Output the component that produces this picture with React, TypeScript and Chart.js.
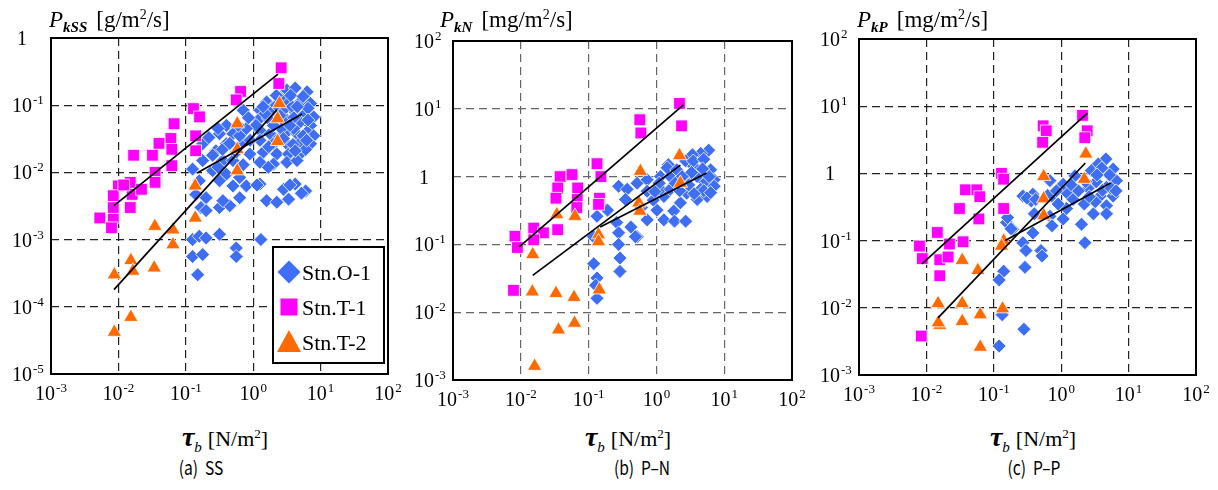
import React, { useEffect, useRef, useState } from 'react';
import { Chart, registerables } from 'chart.js';

Chart.register(...registerables);

type Pt = [number, number];

// ---------- tick labels (powers of ten) ----------
const X_TICK_EXP = [-3, -2, -1, 0, 1, 2];
const SS_Y_TICK_EXP = [-5, -4, -3, -2, -1, 0];
const NP_Y_TICK_EXP = [-3, -2, -1, 0, 1, 2];

const STATIONS = ['Stn.O-1', 'Stn.T-1', 'Stn.T-2'];

// ---------- (a) SS ----------
const SS_O1: Pt[] = [
  [3.16, 0.168], [4.2, 0.18], [6.3, 0.158], [1.58, 0.112], [3.16, 0.119], [5.0, 0.112], [7.1, 0.106],
  [1.26, 0.084], [1.88, 0.089], [2.8, 0.084], [4.2, 0.079], [5.96, 0.075], [7.9, 0.067], [1.19, 0.06],
  [1.68, 0.063], [3.16, 0.06], [5.0, 0.056], [7.1, 0.05], [1.26, 0.042], [1.78, 0.0376], [3.16, 0.04],
  [4.47, 0.0376], [6.3, 0.04], [7.9, 0.035], [1.26, 0.03], [2.0, 0.0266], [3.16, 0.0266], [5.0, 0.028],
  [7.1, 0.0266], [1.41, 0.02], [2.24, 0.0188], [3.35, 0.0188], [5.0, 0.0188], [1.26, 0.0141], [2.0, 0.0133],
  [3.16, 0.0141], [4.47, 0.015], [1.68, 0.0119], [2.5, 0.13], [2.2, 0.1], [3.8, 0.095], [2.5, 0.07],
  [4.0, 0.045], [2.5, 0.034], [6.0, 0.022], [2.6, 0.045], [4.0, 0.065], [2.0, 0.05],
  [1.1, 0.05], [1.5, 0.075], [2.2, 0.14], [3.6, 0.14], [5.5, 0.135], [6.5, 0.09], [4.5, 0.095], [3.5, 0.05],
  [5.5, 0.035], [6.5, 0.06], [1.4, 0.095], [2.8, 0.032], [3.9, 0.026], [1.7, 0.024], [4.2, 0.021], [6.2, 0.03],
  [0.71, 0.084], [0.4, 0.05], [0.316, 0.0376], [0.5, 0.0376], [0.79, 0.045], [0.178, 0.0266], [0.28, 0.021],
  [0.4, 0.0266], [0.71, 0.028], [0.89, 0.0188], [0.178, 0.015], [0.126, 0.0112], [0.355, 0.015], [0.5, 0.015],
  [0.71, 0.013], [0.25, 0.0106], [0.4, 0.0094], [0.63, 0.0084], [0.79, 0.0063], [0.5, 0.0063], [0.316, 0.0075],
  [0.158, 0.0075], [0.141, 0.0047], [0.2, 0.0042], [0.168, 0.003], [0.2, 0.0027], [0.316, 0.003], [0.45, 0.0032],
  [0.63, 0.0042], [0.355, 0.0038], [0.56, 0.02], [0.25, 0.018], [0.9, 0.03], [0.63, 0.035], [0.3, 0.012],
  [0.22, 0.033], [0.35, 0.022], [0.45, 0.027], [0.6, 0.05], [0.3, 0.045], [0.85, 0.065],
  [1.26, 0.0067], [1.58, 0.0038], [2.24, 0.0036], [2.82, 0.0056], [3.35, 0.004], [4.2, 0.0067], [6.0, 0.0053],
  [1.14, 0.0065], [3.5, 0.0065], [5.2, 0.0049],
  [0.126, 0.001], [0.158, 0.00112], [0.2, 0.00106], [0.316, 0.0012], [0.126, 0.00056], [0.178, 0.0006],
  [0.15, 0.0003], [0.56, 0.00075], [0.56, 0.00056], [1.3, 0.001],
];
const SS_T1: Pt[] = [
  [2.6, 0.36], [2.4, 0.21], [0.65, 0.16], [0.56, 0.12], [0.13, 0.089], [0.16, 0.067], [0.067, 0.053],
  [0.14, 0.035], [0.14, 0.021], [0.06, 0.032], [0.062, 0.022], [0.062, 0.0126], [0.04, 0.027], [0.032, 0.018],
  [0.035, 0.01], [0.035, 0.0071], [0.0168, 0.018], [0.015, 0.0071], [0.016, 0.0047], [0.015, 0.003],
  [0.022, 0.0056], [0.01, 0.0063], [0.0084, 0.0045], [0.0053, 0.0021], [0.0084, 0.0021], [0.0079, 0.0015],
  [0.0084, 0.003], [0.012, 0.0065],
];
const SS_T2: Pt[] = [
  [2.45, 0.106], [2.3, 0.063], [2.3, 0.029], [0.58, 0.053], [0.58, 0.022], [0.58, 0.0106], [0.138, 0.0063],
  [0.138, 0.0021], [0.0347, 0.00158], [0.0645, 0.0014], [0.0645, 0.00084], [0.0153, 0.00049], [0.0164, 0.00034],
  [0.034, 0.00038], [0.0087, 0.0003], [0.0153, 0.00007], [0.0087, 0.000042],
];
const SS_FIT_O1: Pt[] = [[0.147, 0.0098], [5.3, 0.074]];
const SS_FIT_T1: Pt[] = [[0.0086, 0.0032], [2.33, 0.29]];
const SS_FIT_T2: Pt[] = [[0.0086, 0.00018], [2.25, 0.085]];

// ---------- (b) P-N ----------
const N_O1: Pt[] = [
  [5.9, 2.45], [4.5, 2.2], [3.4, 2.1], [2.7, 1.7], [1.5, 1.5], [6.3, 1.26], [4.0, 1.0], [7.1, 0.9], [5.2, 0.81],
  [1.15, 1.0], [0.277, 0.72], [0.37, 0.65], [0.52, 0.8], [0.73, 0.9], [0.73, 0.61], [0.35, 0.46], [0.148, 0.39],
  [0.133, 0.26], [0.19, 0.32], [0.26, 0.21], [0.42, 0.18], [0.52, 0.13], [0.73, 0.23], [1.02, 0.32], [1.29, 0.23],
  [1.8, 0.31], [1.85, 0.22], [2.7, 0.22], [2.26, 0.41], [1.29, 0.51], [1.15, 0.65], [1.6, 0.65], [2.8, 0.57],
  [4.0, 0.46], [4.5, 0.65], [5.6, 0.51], [7.1, 0.72], [2.8, 0.9], [1.6, 1.0], [1.44, 1.35], [2.0, 1.26],
  [3.55, 1.42], [0.277, 0.148], [0.277, 0.1], [0.29, 0.063], [0.29, 0.04], [0.119, 0.052], [0.133, 0.032],
  [0.127, 0.025], [0.133, 0.016], [0.118, 0.13], [0.49, 0.13], [3.0, 0.75], [2.2, 0.62], [0.9, 0.45], [0.6, 0.35],
  [3.5, 1.7], [5.0, 1.8], [4.8, 1.3], [3.3, 1.15], [6.0, 1.0], [5.0, 0.62], [3.6, 0.56], [6.3, 0.58],
  [2.4, 1.0], [1.9, 0.8], [1.1, 0.8], [0.95, 0.6],
];
const N_T1: Pt[] = [
  [2.19, 12], [2.35, 5.6], [0.57, 6.9], [0.59, 4.4], [0.133, 1.55], [0.152, 1.0], [0.145, 0.48], [0.14, 0.39],
  [0.038, 1.0], [0.057, 1.07], [0.035, 0.68], [0.069, 0.68], [0.033, 0.48], [0.068, 0.46], [0.067, 0.35],
  [0.035, 0.165], [0.0155, 0.174], [0.0216, 0.148], [0.0155, 0.117], [0.0082, 0.132], [0.0089, 0.09], [0.0078, 0.021],
];
const N_T2: Pt[] = [
  [2.19, 2.04], [2.26, 0.8], [0.58, 1.2], [0.55, 0.41], [0.57, 0.31], [0.14, 0.139], [0.14, 0.11], [0.144, 0.0214],
  [0.034, 0.275], [0.063, 0.26], [0.015, 0.071], [0.0148, 0.02], [0.033, 0.019], [0.061, 0.0166], [0.036, 0.0055],
  [0.062, 0.0069], [0.016, 0.0016],
];
const N_FIT_O1: Pt[] = [[0.148, 0.18], [5.5, 1.13]];
const N_FIT_T1: Pt[] = [[0.0094, 0.091], [2.5, 11.4]];
const N_FIT_T2: Pt[] = [[0.015, 0.035], [2.26, 1.48]];

// ---------- (c) P-P ----------
const P_O1: Pt[] = [
  [4.6, 1.64], [5.9, 1.16], [3.55, 1.38], [2.8, 1.1], [1.6, 0.92], [6.6, 0.78], [4.7, 0.62], [3.8, 0.46],
  [5.9, 0.46], [4.7, 0.33], [4.7, 0.25], [3.0, 0.25], [2.0, 0.175], [2.25, 0.093], [1.2, 0.3], [1.07, 0.21],
  [1.2, 0.52], [1.5, 0.41], [1.07, 0.69], [0.72, 0.46], [0.68, 0.78], [0.38, 0.49], [0.27, 0.46], [0.36, 0.39],
  [0.4, 0.25], [0.68, 0.23], [0.73, 0.166], [0.38, 0.13], [0.27, 0.093], [0.155, 0.186], [0.19, 0.148], [0.3, 0.071],
  [0.5, 0.071], [0.52, 0.059], [0.29, 0.04], [0.14, 0.035], [0.12, 0.026], [0.28, 0.0048], [0.12, 0.0027],
  [0.133, 0.0079], [0.31, 0.43], [0.42, 0.41], [0.63, 0.47], [0.16, 0.22], [0.18, 0.15], [2.5, 0.6], [3.3, 0.75],
  [1.8, 0.55], [0.9, 0.35], [2.2, 0.35],
  [4.0, 1.2], [5.2, 0.95], [3.4, 0.95], [2.3, 0.75], [4.1, 0.56], [5.5, 0.6], [6.5, 0.55], [3.2, 0.38],
  [1.4, 0.68], [0.85, 0.55], [2.6, 0.45],
];
const P_T1: Pt[] = [
  [2.07, 7.3], [2.43, 4.3], [2.24, 3.4], [0.54, 5.1], [0.6, 4.3], [0.53, 2.9], [0.13, 1.0], [0.14, 0.82],
  [0.14, 0.3], [0.038, 0.57], [0.056, 0.57], [0.062, 0.45], [0.031, 0.3], [0.06, 0.21], [0.0145, 0.132],
  [0.022, 0.089], [0.035, 0.096], [0.0079, 0.083], [0.0087, 0.054], [0.0158, 0.052], [0.021, 0.057],
  [0.0158, 0.03], [0.0084, 0.0038],
];
const P_T2: Pt[] = [
  [2.32, 1.95], [2.2, 0.82], [0.55, 0.9], [0.55, 0.42], [0.55, 0.235], [0.14, 0.099], [0.13, 0.083],
  [0.034, 0.051], [0.058, 0.036], [0.0149, 0.0116], [0.034, 0.0116], [0.063, 0.0079], [0.135, 0.0097],
  [0.0158, 0.0055], [0.034, 0.0063], [0.063, 0.0026], [0.015, 0.006],
];
const P_FIT_O1: Pt[] = [[0.148, 0.1], [5.4, 0.72]];
const P_FIT_T1: Pt[] = [[0.0086, 0.045], [2.44, 7.9]];
const P_FIT_T2: Pt[] = [[0.0149, 0.0071], [2.28, 1.43]];

// ---------- styling ----------
const BLUE = '#3E6EF3';
const MAGENTA = '#FF00FF';
const ORANGE = '#FF6A00';
const SERIF = '"Liberation Serif", "Times New Roman", serif';
const CANVAS_H = 410;

interface PanelDef {
  left: number;
  width: number;
  area: { l: number; t: number; r: number; b: number };
  yMin: number;
  yMax: number;
  yExp: number[];
  o1: Pt[]; t1: Pt[]; t2: Pt[];
  fitO1: Pt[]; fitT1: Pt[]; fitT2: Pt[];
  gridColor: string;
  legend: boolean;
}

const PANELS: PanelDef[] = [
  { left: 0, width: 400, area: { l: 51, t: 38, r: 388, b: 374 }, yMin: 1e-5, yMax: 1, yExp: SS_Y_TICK_EXP,
    o1: SS_O1, t1: SS_T1, t2: SS_T2, fitO1: SS_FIT_O1, fitT1: SS_FIT_T1, fitT2: SS_FIT_T2, gridColor: '#222', legend: true },
  { left: 400, width: 410, area: { l: 453, t: 41, r: 792, b: 380 }, yMin: 1e-3, yMax: 1e2, yExp: NP_Y_TICK_EXP,
    o1: N_O1, t1: N_T1, t2: N_T2, fitO1: N_FIT_O1, fitT1: N_FIT_T1, fitT2: N_FIT_T2, gridColor: '#666', legend: false },
  { left: 810, width: 408, area: { l: 859, t: 39, r: 1196, b: 375 }, yMin: 1e-3, yMax: 1e2, yExp: NP_Y_TICK_EXP,
    o1: P_O1, t1: P_T1, t2: P_T2, fitO1: P_FIT_O1, fitT1: P_FIT_T1, fitT2: P_FIT_T2, gridColor: '#222', legend: false },
];

// legend box geometry relative to chart area (left/top)
const LEG = { dx: 222, dy: 209, w: 111, h: 116, rowH: 35, firstRow: 25, markerDx: 16, textDx: 29 };

function marker(ctx: CanvasRenderingContext2D, kind: number, x: number, y: number) {
  ctx.beginPath();
  if (kind === 0) {
    const r = 11.5;
    ctx.moveTo(x - r, y); ctx.lineTo(x, y - r); ctx.lineTo(x + r, y); ctx.lineTo(x, y + r);
    ctx.fillStyle = BLUE;
  } else if (kind === 1) {
    ctx.rect(x - 8.5, y - 8.5, 17, 17);
    ctx.fillStyle = MAGENTA;
  } else {
    ctx.moveTo(x, y - 12); ctx.lineTo(x + 12, y + 10); ctx.lineTo(x - 12, y + 10);
    ctx.fillStyle = ORANGE;
  }
  ctx.closePath();
  ctx.fill();
}

const decor = {
  id: 'decor',
  afterDraw(chart: any, _args: any, opts: any) {
    const { ctx, chartArea: a } = chart;
    ctx.save();
    ctx.setLineDash([]);
    ctx.lineWidth = 2;
    ctx.strokeStyle = '#000';
    ctx.strokeRect(a.left, a.top, a.right - a.left, a.bottom - a.top);
    if (opts.legend) {
      const bx = a.left + LEG.dx, by = a.top + LEG.dy;
      ctx.fillStyle = '#fff';
      ctx.fillRect(bx, by, LEG.w, LEG.h);
      ctx.strokeRect(bx, by, LEG.w, LEG.h);
      STATIONS.forEach((_s, i) => marker(ctx, i, bx + LEG.markerDx, by + LEG.firstRow + i * LEG.rowH));
    }
    ctx.restore();
  },
};

const decadeOnly = (scale: any) => {
  scale.ticks = scale.ticks.filter((t: any) => {
    const l = Math.log10(t.value);
    return Math.abs(l - Math.round(l)) < 1e-6;
  });
};

const toXY = (d: Pt[]) => d.map(([x, y]) => ({ x, y }));

interface TickPos { e: number; px: number }
interface Layout { xs: TickPos[]; ys: TickPos[]; left: number; top: number; bottom: number }

const supStyle: React.CSSProperties = { fontSize: 13, position: 'relative', top: -8, marginLeft: 1 };

function Pow({ e }: { e: number }) {
  return (
    <>
      10<span style={supStyle}>{e < 0 ? '-' + -e : String(e)}</span>
    </>
  );
}

function Panel({ p }: { p: PanelDef }) {
  const ref = useRef<HTMLCanvasElement | null>(null);
  const [lay, setLay] = useState<Layout | null>(null);
  useEffect(() => {
    if (!ref.current) return;
    const line = (d: Pt[], label: string) => ({
      label, data: toXY(d), showLine: true, borderColor: '#000', borderWidth: 1.7,
      pointRadius: 0, fill: false,
    });
    const axis = (min: number, max: number) => ({
      type: 'logarithmic' as const,
      min, max,
      afterBuildTicks: decadeOnly,
      ticks: { display: false },
      grid: { color: p.gridColor, lineWidth: 1.2, drawTicks: false },
      border: { display: false, dash: [8, 5] },
    });
    const chart = new Chart(ref.current, {
      type: 'scatter',
      data: {
        datasets: [
          line(p.fitT1, 'fit T-1'),
          line(p.fitT2, 'fit T-2'),
          line(p.fitO1, 'fit O-1'),
          { label: STATIONS[2], data: toXY(p.t2), pointStyle: 'triangle', pointRadius: 8.3,
            backgroundColor: ORANGE, borderColor: '#fff', borderWidth: 0.8 },
          { label: STATIONS[1], data: toXY(p.t1), pointStyle: 'rect', pointRadius: 8.3,
            backgroundColor: MAGENTA, borderColor: '#fff', borderWidth: 0.8 },
          { label: STATIONS[0], data: toXY(p.o1), pointStyle: 'rectRot', pointRadius: 7,
            backgroundColor: BLUE, borderColor: '#fff', borderWidth: 0.8 },
        ] as any,
      },
      options: {
        animation: false,
        responsive: false,
        devicePixelRatio: 1,
        events: [],
        layout: {
          padding: {
            left: p.area.l - p.left,
            top: p.area.t,
            right: p.left + p.width - p.area.r,
            bottom: CANVAS_H - p.area.b,
          },
        },
        plugins: {
          legend: { display: false },
          tooltip: { enabled: false },
          decor: { legend: p.legend },
        } as any,
        scales: { x: axis(1e-3, 1e2), y: axis(p.yMin, p.yMax) } as any,
      },
      plugins: [decor],
    });
    const sx = chart.scales.x, sy = chart.scales.y;
    setLay({
      xs: X_TICK_EXP.map((e) => ({ e, px: sx.getPixelForValue(Math.pow(10, e)) })),
      ys: p.yExp.map((e) => ({ e, px: sy.getPixelForValue(Math.pow(10, e)) })),
      left: chart.chartArea.left,
      top: chart.chartArea.top,
      bottom: chart.chartArea.bottom,
    });
    return () => chart.destroy();
  }, [p]);

  const txt: React.CSSProperties = {
    position: 'absolute', fontFamily: SERIF, fontSize: 20, lineHeight: '20px', whiteSpace: 'nowrap', color: '#000',
  };
  return (
    <>
      <canvas
        ref={ref}
        width={p.width}
        height={CANVAS_H}
        style={{ position: 'absolute', left: p.left, top: 0, width: p.width, height: CANVAS_H }}
      />
      {lay && lay.xs.map((t) => (
        <div key={'x' + t.e} style={{ ...txt, left: p.left + t.px, top: lay.bottom + 9, transform: 'translateX(-50%)' }}>
          <Pow e={t.e} />
        </div>
      ))}
      {lay && lay.ys.map((t) =>
        t.e === 0 ? (
          <div key={'y' + t.e} style={{ ...txt, left: p.left + lay.left - 29, top: t.px - 10, transform: 'translateX(-50%)' }}>
            1
          </div>
        ) : (
          <div key={'y' + t.e} style={{ ...txt, left: p.left + lay.left - 39, top: t.px - 10 }}>
            <Pow e={t.e} />
          </div>
        )
      )}
      {lay && p.legend && STATIONS.map((s, i) => (
        <div
          key={s}
          style={{
            ...txt, fontSize: 22, lineHeight: '22px',
            left: p.left + lay.left + LEG.dx + LEG.textDx,
            top: lay.top + LEG.dy + LEG.firstRow + i * LEG.rowH - 10,
          }}
        >
          {s}
        </div>
      ))}
    </>
  );
}

const serifText: React.CSSProperties = { fontFamily: SERIF, color: '#000', whiteSpace: 'nowrap', position: 'absolute' };

function YTitle({ left, sub, unit }: { left: number; sub: string; unit: string }) {
  return (
    <div style={{ ...serifText, left, top: 8, fontSize: 23, lineHeight: '23px' }}>
      <span style={{ fontStyle: 'italic' }}>P</span>
      <span style={{ fontStyle: 'italic', fontWeight: 'bold', fontSize: 15, position: 'relative', top: 5 }}>{sub}</span>
      <span style={{ marginLeft: 9 }}>
        [{unit}m<span style={{ fontSize: 14, position: 'relative', top: -8 }}>2</span>/s]
      </span>
    </div>
  );
}

function XTitle({ center }: { center: number }) {
  return (
    <div style={{ ...serifText, left: center, top: 424, transform: 'translateX(-50%)', fontSize: 22, lineHeight: '26px' }}>
      <span style={{ fontStyle: 'italic', fontWeight: 'bold', fontSize: 28 }}>τ</span>
      <span style={{ fontStyle: 'italic', fontSize: 15, position: 'relative', top: 6 }}>b</span>
      <span style={{ marginLeft: 6 }}>
        [N/m<span style={{ fontSize: 13, position: 'relative', top: -8 }}>2</span>]
      </span>
    </div>
  );
}

function Caption({ center, text }: { center: number; text: string }) {
  return (
    <div
      style={{
        position: 'absolute', left: center, top: 455, transform: 'translateX(-50%) scaleX(0.82)',
        fontFamily: '"Noto Sans CJK JP", sans-serif', fontSize: 19, lineHeight: '24px', whiteSpace: 'pre', color: '#000',
      }}
    >
      {text}
    </div>
  );
}

export default function App() {
  return (
    <div style={{ position: 'absolute', left: 0, top: 0, width: 1218, height: 490, background: '#fff', overflow: 'hidden' }}>
      {PANELS.map((p, i) => <Panel key={i} p={p} />)}
      <YTitle left={49} sub="kSS" unit="g/" />
      <YTitle left={440} sub="kN" unit="mg/" />
      <YTitle left={857} sub="kP" unit="mg/" />
      <XTitle center={225} />
      <XTitle center={628} />
      <XTitle center={1033} />
      <Caption center={201} text="(a)  SS" />
      <Caption center={642} text="(b)  P–N" />
      <Caption center={1034} text="(c)  P–P" />
    </div>
  );
}
